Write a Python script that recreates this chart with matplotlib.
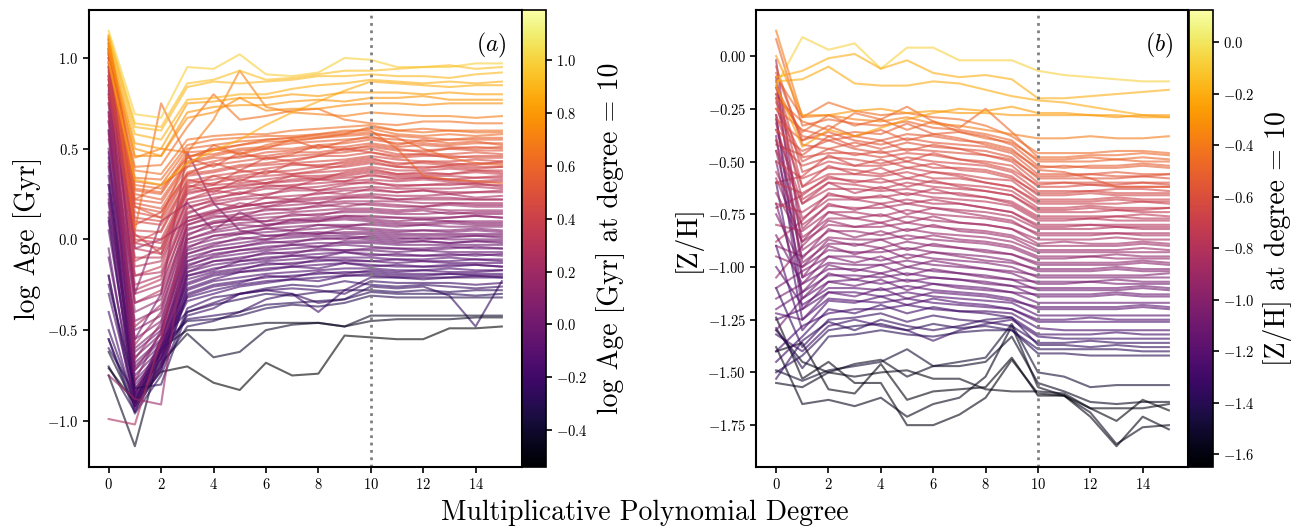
import numpy as np
import matplotlib
matplotlib.use("Agg")
import matplotlib.pyplot as plt
from matplotlib.colors import Normalize
from matplotlib.ticker import FuncFormatter

plt.rcParams['font.family'] = 'serif'
plt.rcParams['font.serif'] = ['cmr10']
plt.rcParams['mathtext.fontset'] = 'cm'
plt.rcParams['axes.formatter.use_mathtext'] = True

degrees = list(range(16))
ref_degree = 10

# ---------------- panel (a): log Age [Gyr] ----------------
age_yellow = [
    [1.15, 0.69, 0.67, 0.95, 0.94, 1.02, 0.91, 0.90, 0.92, 1.00, 0.99, 0.95, 0.95, 0.95, 0.97, 0.97],
    [1.13, 0.64, 0.62, 0.86, 0.88, 0.93, 0.88, 0.89, 0.91, 0.93, 0.93, 0.94, 0.95, 0.96, 0.94, 0.95],
    [1.12, 0.62, 0.60, 0.84, 0.87, 0.86, 0.87, 0.88, 0.90, 0.90, 0.91, 0.90, 0.90, 0.89, 0.91, 0.92],
    [1.10, 0.58, 0.55, 0.77, 0.78, 0.80, 0.80, 0.83, 0.85, 0.86, 0.88, 0.87, 0.86, 0.87, 0.86, 0.87],
    [0.98, 0.33, 0.30, 0.42, 0.49, 0.55, 0.63, 0.70, 0.76, 0.82, 0.87, 0.86, 0.85, 0.84, 0.85, 0.85],
    [1.08, 0.53, 0.50, 0.75, 0.76, 0.78, 0.78, 0.80, 0.79, 0.81, 0.81, 0.81, 0.80, 0.81, 0.80, 0.80],
    [1.06, 0.50, 0.46, 0.70, 0.73, 0.74, 0.74, 0.76, 0.77, 0.76, 0.78, 0.78, 0.79, 0.77, 0.77, 0.77],
    [1.04, 0.46, 0.46, 0.67, 0.70, 0.78, 0.71, 0.72, 0.72, 0.74, 0.75, 0.75, 0.74, 0.75, 0.75, 0.75],
]
age_orange = [
    [1.06, 0.45, 0.50, 0.48, 0.66, 0.93, 0.73, 0.70, 0.69, 0.68, 0.70, 0.69, 0.68, 0.68, 0.67, 0.68],
    [1.03, 0.40, 0.41, 0.62, 0.80, 0.66, 0.68, 0.71, 0.72, 0.66, 0.64, 0.63, 0.65, 0.65, 0.64, 0.64],
    [1.05, 0.05, 0.75, 0.45, 0.50, 0.47, 0.52, 0.55, 0.56, 0.58, 0.62, 0.60, 0.61, 0.60, 0.59, 0.59],
    [1.02, 0.38, 0.36, 0.55, 0.57, 0.58, 0.58, 0.60, 0.61, 0.62, 0.63, 0.60, 0.59, 0.60, 0.60, 0.60],
    [1.08, 0.30, 0.28, 0.45, 0.50, 0.52, 0.55, 0.56, 0.58, 0.60, 0.60, 0.50, 0.35, 0.33, 0.32, 0.31],
    [1.00, 0.34, 0.33, 0.52, 0.55, 0.56, 0.57, 0.57, 0.58, 0.59, 0.61, 0.58, 0.57, 0.58, 0.57, 0.58],
    [1.10, 0.32, 0.30, 0.50, 0.52, 0.54, 0.55, 0.56, 0.57, 0.58, 0.59, 0.56, 0.50, 0.45, 0.42, 0.41],
    [0.97, 0.28, 0.26, 0.48, 0.49, 0.52, 0.54, 0.54, 0.56, 0.57, 0.58, 0.57, 0.56, 0.55, 0.56, 0.56],
]
age_red = [
    [1.12, 0.27, 0.25, 0.46, 0.47, 0.50, 0.51, 0.53, 0.54, 0.55, 0.56, 0.55, 0.54, 0.55, 0.55, 0.55],
    [1.05, 0.25, 0.22, 0.43, 0.46, 0.49, 0.50, 0.50, 0.52, 0.53, 0.55, 0.53, 0.53, 0.52, 0.53, 0.53],
    [0.95, 0.22, 0.20, 0.42, 0.45, 0.45, 0.48, 0.49, 0.51, 0.51, 0.53, 0.51, 0.52, 0.51, 0.50, 0.51],
    [1.02, 0.20, 0.17, 0.40, 0.43, 0.46, 0.46, 0.48, 0.48, 0.50, 0.51, 0.49, 0.49, 0.50, 0.49, 0.49],
    [0.90, 0.18, 0.15, 0.37, 0.41, 0.43, 0.45, 0.46, 0.47, 0.48, 0.50, 0.47, 0.47, 0.47, 0.48, 0.47],
    [1.08, 0.15, 0.12, 0.36, 0.38, 0.41, 0.42, 0.44, 0.46, 0.46, 0.48, 0.45, 0.46, 0.46, 0.45, 0.45],
    [0.85, 0.12, 0.10, 0.35, 0.37, 0.40, 0.41, 0.42, 0.43, 0.44, 0.46, 0.44, 0.43, 0.43, 0.44, 0.43],
    [1.00, 0.10, 0.08, 0.32, 0.35, 0.37, 0.39, 0.41, 0.41, 0.42, 0.44, 0.42, 0.42, 0.41, 0.42, 0.42],
    [0.92, 0.05, 0.04, 0.31, 0.33, 0.35, 0.37, 0.38, 0.40, 0.40, 0.42, 0.40, 0.40, 0.40, 0.39, 0.40],
    [0.80, 0.02, 0.00, 0.29, 0.31, 0.34, 0.35, 0.36, 0.37, 0.38, 0.40, 0.38, 0.38, 0.39, 0.38, 0.38],
    [1.05, 0.00, -0.02, 0.27, 0.30, 0.31, 0.33, 0.35, 0.35, 0.36, 0.38, 0.36, 0.36, 0.36, 0.37, 0.36],
    [0.98, -0.02, -0.05, 0.26, 0.28, 0.30, 0.31, 0.33, 0.34, 0.35, 0.37, 0.35, 0.35, 0.35, 0.34, 0.35],
]
age_magenta = [
    [0.95, -0.05, -0.08, 0.25, 0.28, 0.29, 0.31, 0.32, 0.33, 0.34, 0.35, 0.34, 0.34, 0.33, 0.34, 0.34],
    [0.88, -0.10, -0.10, 0.22, 0.25, 0.28, 0.29, 0.30, 0.31, 0.32, 0.33, 0.32, 0.33, 0.32, 0.31, 0.32],
    [1.02, -0.15, -0.12, 0.20, 0.23, 0.25, 0.28, 0.28, 0.29, 0.31, 0.31, 0.30, 0.30, 0.31, 0.30, 0.30],
    [0.75, -0.20, -0.18, 0.18, 0.21, 0.23, 0.25, 0.27, 0.27, 0.28, 0.29, 0.28, 0.28, 0.28, 0.29, 0.28],
    [0.90, -0.25, -0.20, 0.15, 0.19, 0.22, 0.23, 0.24, 0.25, 0.27, 0.27, 0.26, 0.27, 0.26, 0.26, 0.26],
    [-0.99, -1.02, -0.55, 0.10, 0.15, 0.18, 0.20, 0.22, 0.23, 0.24, 0.25, 0.24, 0.24, 0.25, 0.23, 0.24],
    [0.70, -0.30, -0.25, 0.12, 0.16, 0.18, 0.20, 0.21, 0.22, 0.23, 0.23, 0.22, 0.22, 0.22, 0.22, 0.22],
    [1.10, -0.05, 0.00, 0.10, 0.14, 0.16, 0.18, 0.19, 0.20, 0.21, 0.21, 0.21, 0.20, 0.20, 0.20, 0.20],
    [0.65, -0.35, -0.30, 0.08, 0.12, 0.14, 0.16, 0.17, 0.18, 0.20, 0.19, 0.18, 0.18, 0.19, 0.18, 0.18],
    [-0.75, -0.88, -0.91, 0.05, 0.10, 0.12, 0.14, 0.15, 0.16, 0.17, 0.17, 0.16, 0.17, 0.16, 0.16, 0.16],
    [0.85, -0.40, -0.33, 0.06, 0.09, 0.11, 0.12, 0.13, 0.14, 0.15, 0.15, 0.14, 0.14, 0.15, 0.14, 0.14],
    [0.55, -0.45, -0.38, 0.03, 0.07, 0.09, 0.10, 0.11, 0.12, 0.13, 0.13, 0.12, 0.12, 0.12, 0.13, 0.12],
    [1.00, -0.30, 0.10, 0.20, 0.05, 0.15, 0.08, 0.10, 0.11, 0.12, 0.11, 0.10, 0.11, 0.10, 0.10, 0.10],
]
age_purple = [
    [0.80, -0.50, -0.42, 0.00, 0.04, 0.06, 0.08, 0.09, 0.10, 0.11, 0.10, 0.09, 0.09, 0.10, 0.09, 0.09],
    [0.45, -0.55, -0.45, -0.02, 0.02, 0.04, 0.06, 0.07, 0.08, 0.08, 0.08, 0.07, 0.08, 0.07, 0.07, 0.07],
    [0.95, -0.60, -0.48, -0.04, 0.00, 0.03, 0.04, 0.05, 0.06, 0.07, 0.06, 0.05, 0.05, 0.05, 0.06, 0.05],
    [0.60, -0.55, -0.30, 0.48, 0.20, 0.05, 0.02, 0.02, 0.03, 0.04, 0.04, 0.03, 0.03, 0.03, 0.03, 0.03],
    [0.30, -0.62, -0.50, -0.06, -0.02, 0.00, 0.02, 0.03, 0.04, 0.03, 0.03, 0.02, 0.02, 0.02, 0.02, 0.02],
    [0.70, -0.65, -0.52, -0.08, -0.04, -0.02, 0.00, 0.01, 0.02, 0.02, 0.01, 0.00, 0.01, 0.00, 0.00, 0.00],
    [0.50, -0.68, -0.55, -0.10, -0.06, -0.04, -0.02, -0.01, 0.00, 0.01, 0.00, -0.01, -0.01, -0.02, -0.01, -0.01],
    [0.15, -0.70, -0.56, -0.12, -0.08, -0.06, -0.04, -0.03, -0.02, -0.02, -0.02, -0.03, -0.03, -0.03, -0.03, -0.03],
    [0.85, -0.72, -0.58, -0.14, -0.10, -0.08, -0.06, -0.05, -0.04, -0.03, -0.04, -0.05, -0.05, -0.04, -0.05, -0.05],
    [0.25, -0.75, -0.60, -0.16, -0.12, -0.10, -0.08, -0.07, -0.06, -0.06, -0.06, -0.07, -0.06, -0.07, -0.07, -0.07],
    [0.60, -0.78, -0.62, -0.18, -0.14, -0.12, -0.10, -0.09, -0.08, -0.07, -0.08, -0.09, -0.09, -0.09, -0.08, -0.09],
    [0.05, -0.80, -0.64, -0.20, -0.16, -0.14, -0.12, -0.11, -0.10, -0.10, -0.10, -0.11, -0.11, -0.10, -0.11, -0.11],
    [0.40, -0.82, -0.66, -0.22, -0.18, -0.16, -0.14, -0.13, -0.12, -0.11, -0.12, -0.13, -0.12, -0.13, -0.13, -0.13],
    [-0.10, -0.84, -0.68, -0.25, -0.20, -0.18, -0.16, -0.15, -0.14, -0.13, -0.14, -0.15, -0.15, -0.15, -0.14, -0.15],
    [0.20, -0.86, -0.70, -0.28, -0.23, -0.21, -0.19, -0.18, -0.17, -0.16, -0.16, -0.17, -0.17, -0.16, -0.17, -0.17],
    [-0.30, -0.88, -0.72, -0.30, -0.25, -0.23, -0.21, -0.20, -0.19, -0.18, -0.18, -0.19, -0.19, -0.19, -0.19, -0.19],
    [0.35, -0.85, -0.60, -0.32, -0.28, -0.25, -0.23, -0.22, -0.21, -0.20, -0.20, -0.21, -0.21, -0.21, -0.20, -0.21],
]
age_mixed = [
    [1.07, 0.22, 0.30, 0.40, 0.52, 0.47, 0.50, 0.55, 0.50, 0.54, 0.57, 0.52, 0.55, 0.53, 0.54, 0.52],
    [0.93, 0.18, 0.12, 0.45, 0.40, 0.48, 0.44, 0.47, 0.52, 0.49, 0.52, 0.50, 0.48, 0.50, 0.51, 0.50],
    [1.03, 0.08, 0.15, 0.36, 0.42, 0.38, 0.45, 0.43, 0.46, 0.50, 0.48, 0.46, 0.47, 0.45, 0.46, 0.46],
    [0.88, -0.02, 0.05, 0.33, 0.30, 0.38, 0.36, 0.42, 0.40, 0.43, 0.45, 0.41, 0.43, 0.42, 0.41, 0.43],
    [1.11, 0.03, -0.08, 0.28, 0.35, 0.32, 0.38, 0.36, 0.38, 0.41, 0.43, 0.40, 0.39, 0.41, 0.40, 0.40],
    [0.78, -0.12, -0.05, 0.30, 0.26, 0.33, 0.31, 0.35, 0.33, 0.37, 0.39, 0.36, 0.37, 0.36, 0.38, 0.37],
    [0.97, -0.20, -0.15, 0.22, 0.27, 0.25, 0.30, 0.29, 0.33, 0.32, 0.36, 0.33, 0.34, 0.33, 0.32, 0.33],
    [0.68, -0.28, -0.22, 0.17, 0.22, 0.26, 0.24, 0.29, 0.27, 0.30, 0.32, 0.29, 0.30, 0.30, 0.31, 0.29],
    [1.04, -0.35, -0.28, 0.14, 0.20, 0.18, 0.23, 0.22, 0.26, 0.25, 0.28, 0.26, 0.27, 0.25, 0.26, 0.27],
    [0.58, -0.48, -0.36, 0.12, 0.15, 0.20, 0.18, 0.21, 0.20, 0.23, 0.24, 0.22, 0.23, 0.23, 0.22, 0.22],
    [0.82, -0.58, -0.40, 0.08, 0.13, 0.12, 0.17, 0.16, 0.19, 0.18, 0.20, 0.19, 0.18, 0.20, 0.19, 0.19],
    [0.42, -0.66, -0.46, 0.02, 0.09, 0.11, 0.10, 0.14, 0.13, 0.16, 0.16, 0.15, 0.16, 0.14, 0.15, 0.15],
    [0.90, -0.72, -0.52, 0.00, 0.05, 0.08, 0.07, 0.11, 0.10, 0.13, 0.12, 0.12, 0.11, 0.12, 0.13, 0.12],
    [0.22, -0.78, -0.50, -0.05, 0.02, 0.03, 0.06, 0.05, 0.08, 0.07, 0.09, 0.08, 0.08, 0.09, 0.08, 0.08],
    [0.65, -0.83, -0.58, -0.08, -0.03, 0.01, 0.00, 0.04, 0.03, 0.06, 0.05, 0.04, 0.05, 0.04, 0.05, 0.04],
    [0.10, -0.88, -0.62, -0.12, -0.06, -0.04, -0.01, -0.02, 0.01, 0.00, 0.02, 0.01, 0.00, 0.01, 0.02, 0.01],
    [0.75, -0.86, -0.55, -0.15, -0.09, -0.06, -0.05, -0.03, -0.04, -0.01, -0.01, -0.02, -0.01, -0.02, -0.01, -0.02],
    [-0.05, -0.92, -0.65, -0.18, -0.12, -0.11, -0.07, -0.08, -0.05, -0.06, -0.05, -0.05, -0.06, -0.05, -0.04, -0.05],
    [0.48, -0.90, -0.70, -0.20, -0.17, -0.12, -0.11, -0.09, -0.10, -0.07, -0.09, -0.08, -0.09, -0.08, -0.09, -0.08],
    [-0.20, -0.95, -0.60, -0.24, -0.19, -0.17, -0.13, -0.14, -0.11, -0.12, -0.12, -0.11, -0.12, -0.12, -0.11, -0.12],
    [0.30, -0.87, -0.66, -0.27, -0.22, -0.18, -0.17, -0.15, -0.16, -0.13, -0.15, -0.14, -0.15, -0.14, -0.14, -0.15],
    [-0.40, -0.93, -0.72, -0.31, -0.26, -0.24, -0.20, -0.21, -0.18, -0.19, -0.17, -0.18, -0.17, -0.18, -0.18, -0.17],
    [0.12, -0.89, -0.62, -0.34, -0.30, -0.26, -0.24, -0.22, -0.23, -0.20, -0.19, -0.20, -0.20, -0.19, -0.20, -0.20],
    [-0.55, -0.96, -0.75, -0.38, -0.32, -0.30, -0.27, -0.25, -0.26, -0.23, -0.25, -0.26, -0.25, -0.26, -0.27, -0.26],
    [-0.25, -0.82, -0.80, -0.40, -0.36, -0.33, -0.30, -0.31, -0.29, -0.28, -0.28, -0.29, -0.28, -0.29, -0.28, -0.28],
]
age_dark = [
    [-0.20, -0.90, -0.55, -0.40, -0.35, -0.30, -0.28, -0.30, -0.40, -0.28, -0.21, -0.21, -0.22, -0.21, -0.21, -0.21],
    [-0.50, -0.90, -0.65, -0.42, -0.38, -0.30, -0.28, -0.27, -0.28, -0.30, -0.23, -0.24, -0.24, -0.24, -0.25, -0.24],
    [-0.60, -0.85, -0.62, -0.44, -0.42, -0.40, -0.33, -0.30, -0.35, -0.33, -0.26, -0.27, -0.26, -0.31, -0.48, -0.23],
    [-0.70, -0.95, -0.70, -0.48, -0.45, -0.40, -0.36, -0.35, -0.34, -0.33, -0.29, -0.30, -0.30, -0.30, -0.31, -0.30],
    [-0.55, -0.92, -0.58, -0.45, -0.44, -0.42, -0.38, -0.36, -0.37, -0.35, -0.31, -0.32, -0.32, -0.32, -0.32, -0.32],
    [-0.62, -0.92, -0.68, -0.52, -0.65, -0.62, -0.50, -0.47, -0.46, -0.48, -0.42, -0.42, -0.42, -0.42, -0.42, -0.42],
    [-0.75, -1.14, -0.60, -0.50, -0.50, -0.48, -0.46, -0.46, -0.46, -0.48, -0.45, -0.44, -0.44, -0.44, -0.43, -0.43],
    [-0.71, -0.90, -0.73, -0.70, -0.79, -0.83, -0.68, -0.75, -0.74, -0.53, -0.54, -0.55, -0.55, -0.49, -0.49, -0.48],
]
age_norm_range = (-0.54, 1.19)
age_cbar_ticks = [-0.4, -0.2, 0.0, 0.2, 0.4, 0.6, 0.8, 1.0]
age_yticks = [-1.0, -0.5, 0.0, 0.5, 1.0]

# ---------------- panel (b): [Z/H] ----------------
zh_yellow = [
    [-0.14, 0.09, 0.03, 0.06, -0.06, 0.04, 0.04, -0.02, -0.02, -0.02, -0.07, -0.09, -0.10, -0.11, -0.12, -0.12],
    [-0.10, -0.07, -0.01, 0.01, -0.06, -0.02, -0.08, -0.10, -0.09, -0.11, -0.20, -0.20, -0.19, -0.18, -0.17, -0.16],
    [-0.12, -0.11, -0.05, -0.13, -0.14, -0.14, -0.12, -0.13, -0.16, -0.19, -0.21, -0.22, -0.24, -0.26, -0.28, -0.29],
    [-0.14, -0.43, -0.35, -0.38, -0.34, -0.30, -0.27, -0.25, -0.26, -0.24, -0.27, -0.27, -0.28, -0.28, -0.29, -0.29],
    [0.00, -0.28, -0.28, -0.26, -0.25, -0.27, -0.26, -0.27, -0.27, -0.28, -0.28, -0.28, -0.28, -0.29, -0.28, -0.28],
    [0.12, -0.29, -0.28, -0.30, -0.31, -0.29, -0.32, -0.33, -0.35, -0.37, -0.39, -0.39, -0.38, -0.39, -0.39, -0.38],
]
zh_orange = [
    [-0.10, -0.29, -0.22, -0.26, -0.28, -0.27, -0.29, -0.30, -0.33, -0.38, -0.46, -0.46, -0.46, -0.45, -0.45, -0.46],
    [-0.20, -0.31, -0.35, -0.27, -0.30, -0.24, -0.31, -0.34, -0.25, -0.36, -0.48, -0.48, -0.47, -0.47, -0.46, -0.47],
    [0.08, -0.33, -0.30, -0.32, -0.33, -0.31, -0.34, -0.35, -0.37, -0.40, -0.50, -0.50, -0.50, -0.49, -0.50, -0.50],
    [-0.25, -0.35, -0.38, -0.36, -0.37, -0.32, -0.37, -0.36, -0.38, -0.42, -0.52, -0.53, -0.52, -0.52, -0.51, -0.52],
    [-0.15, -0.38, -0.40, -0.38, -0.40, -0.37, -0.38, -0.40, -0.41, -0.44, -0.54, -0.55, -0.58, -0.62, -0.62, -0.62],
    [-0.30, -0.40, -0.36, -0.40, -0.42, -0.39, -0.41, -0.42, -0.43, -0.46, -0.56, -0.56, -0.56, -0.55, -0.56, -0.56],
    [-0.05, -0.42, -0.44, -0.41, -0.44, -0.41, -0.43, -0.44, -0.45, -0.48, -0.58, -0.58, -0.58, -0.58, -0.57, -0.58],
    [-0.35, -0.45, -0.40, -0.44, -0.46, -0.44, -0.45, -0.46, -0.47, -0.50, -0.60, -0.60, -0.60, -0.60, -0.60, -0.60],
]
zh_red = [
    [-0.22, -0.48, -0.46, -0.46, -0.48, -0.46, -0.47, -0.49, -0.50, -0.52, -0.62, -0.62, -0.61, -0.62, -0.62, -0.62],
    [-0.40, -0.52, -0.48, -0.49, -0.51, -0.48, -0.50, -0.51, -0.52, -0.55, -0.64, -0.64, -0.64, -0.63, -0.63, -0.64],
    [-0.12, -0.55, -0.50, -0.52, -0.52, -0.50, -0.53, -0.53, -0.54, -0.57, -0.66, -0.66, -0.65, -0.66, -0.66, -0.66],
    [-0.50, -0.58, -0.53, -0.54, -0.56, -0.53, -0.55, -0.56, -0.58, -0.59, -0.68, -0.68, -0.68, -0.67, -0.68, -0.68],
    [-0.28, -0.62, -0.56, -0.56, -0.57, -0.55, -0.58, -0.58, -0.60, -0.62, -0.70, -0.70, -0.70, -0.70, -0.69, -0.70],
    [-0.60, -0.65, -0.58, -0.59, -0.60, -0.58, -0.60, -0.61, -0.62, -0.64, -0.72, -0.72, -0.71, -0.72, -0.72, -0.72],
    [-0.18, -0.68, -0.60, -0.61, -0.63, -0.60, -0.62, -0.63, -0.64, -0.66, -0.74, -0.74, -0.74, -0.73, -0.74, -0.74],
    [-0.45, -0.70, -0.63, -0.63, -0.64, -0.63, -0.65, -0.65, -0.67, -0.69, -0.76, -0.76, -0.76, -0.76, -0.75, -0.76],
    [-0.70, -0.74, -0.66, -0.67, -0.67, -0.65, -0.67, -0.68, -0.69, -0.71, -0.78, -0.78, -0.77, -0.78, -0.78, -0.78],
    [-0.32, -0.77, -0.68, -0.68, -0.70, -0.68, -0.70, -0.70, -0.72, -0.74, -0.80, -0.80, -0.80, -0.80, -0.80, -0.80],
    [-0.55, -0.80, -0.71, -0.72, -0.72, -0.70, -0.72, -0.73, -0.74, -0.76, -0.82, -0.82, -0.82, -0.81, -0.82, -0.82],
    [-0.80, -0.83, -0.74, -0.74, -0.76, -0.73, -0.75, -0.76, -0.77, -0.79, -0.84, -0.84, -0.84, -0.84, -0.84, -0.84],
]
zh_magenta = [
    [-0.40, -0.86, -0.77, -0.77, -0.79, -0.76, -0.78, -0.79, -0.80, -0.82, -0.87, -0.87, -0.87, -0.86, -0.87, -0.87],
    [-0.65, -0.88, -0.80, -0.81, -0.81, -0.79, -0.81, -0.82, -0.83, -0.85, -0.90, -0.90, -0.90, -0.90, -0.89, -0.90],
    [-0.02, -0.92, -0.83, -0.83, -0.85, -0.82, -0.84, -0.85, -0.86, -0.88, -0.93, -0.93, -0.93, -0.93, -0.93, -0.93],
    [-0.90, -0.95, -0.86, -0.87, -0.87, -0.85, -0.87, -0.88, -0.89, -0.91, -0.96, -0.96, -0.95, -0.96, -0.96, -0.96],
    [-0.30, -0.98, -0.89, -0.89, -0.91, -0.88, -0.90, -0.91, -0.92, -0.94, -0.99, -0.99, -0.99, -0.99, -0.98, -0.99],
    [-0.75, -1.00, -0.92, -0.93, -0.93, -0.91, -0.93, -0.94, -0.95, -0.97, -1.02, -1.02, -1.02, -1.01, -1.02, -1.02],
    [-1.10, -1.02, -0.95, -0.95, -0.97, -0.94, -0.96, -0.97, -0.98, -1.00, -1.05, -1.05, -1.05, -1.05, -1.05, -1.05],
    [-0.50, -1.05, -0.98, -0.99, -0.99, -0.97, -0.99, -1.00, -1.01, -1.03, -1.08, -1.08, -1.07, -1.08, -1.08, -1.08],
    [-0.85, -1.08, -1.01, -1.01, -1.03, -1.00, -1.02, -1.03, -1.04, -1.06, -1.11, -1.11, -1.11, -1.11, -1.10, -1.11],
    [-1.20, -1.12, -1.04, -1.04, -1.05, -1.03, -1.05, -1.06, -1.07, -1.09, -1.14, -1.14, -1.14, -1.13, -1.14, -1.14],
    [-0.28, -1.15, -1.07, -1.06, -1.08, -1.06, -1.08, -1.09, -1.10, -1.12, -1.17, -1.17, -1.17, -1.17, -1.17, -1.17],
    [-1.00, -1.18, -1.10, -1.10, -1.11, -1.09, -1.11, -1.12, -1.13, -1.15, -1.20, -1.20, -1.20, -1.20, -1.19, -1.20],
]
zh_mixed = [
    [-0.18, -0.36, -0.28, -0.33, -0.30, -0.35, -0.31, -0.36, -0.39, -0.41, -0.49, -0.49, -0.48, -0.49, -0.48, -0.49],
    [-0.08, -0.40, -0.33, -0.38, -0.35, -0.40, -0.37, -0.39, -0.42, -0.45, -0.53, -0.52, -0.53, -0.53, -0.52, -0.53],
    [-0.42, -0.47, -0.38, -0.43, -0.40, -0.45, -0.42, -0.44, -0.47, -0.49, -0.57, -0.57, -0.56, -0.57, -0.57, -0.56],
    [-0.25, -0.50, -0.44, -0.47, -0.45, -0.50, -0.46, -0.49, -0.51, -0.54, -0.61, -0.60, -0.61, -0.61, -0.60, -0.61],
    [-0.60, -0.57, -0.47, -0.52, -0.49, -0.53, -0.51, -0.54, -0.55, -0.58, -0.65, -0.65, -0.64, -0.65, -0.65, -0.65],
    [-0.15, -0.62, -0.52, -0.56, -0.53, -0.58, -0.55, -0.57, -0.60, -0.62, -0.69, -0.69, -0.69, -0.68, -0.69, -0.69],
    [-0.72, -0.66, -0.57, -0.60, -0.58, -0.62, -0.59, -0.62, -0.64, -0.66, -0.73, -0.73, -0.72, -0.73, -0.73, -0.72],
    [-0.35, -0.70, -0.60, -0.65, -0.62, -0.66, -0.63, -0.66, -0.67, -0.70, -0.77, -0.77, -0.77, -0.76, -0.77, -0.77],
    [-0.88, -0.78, -0.65, -0.68, -0.66, -0.70, -0.68, -0.70, -0.72, -0.74, -0.81, -0.81, -0.80, -0.81, -0.81, -0.81],
    [-0.20, -0.82, -0.70, -0.73, -0.70, -0.75, -0.72, -0.74, -0.76, -0.78, -0.85, -0.85, -0.85, -0.84, -0.85, -0.85],
    [-0.58, -0.88, -0.74, -0.77, -0.75, -0.79, -0.76, -0.79, -0.80, -0.82, -0.89, -0.88, -0.89, -0.89, -0.88, -0.89],
    [-1.05, -0.90, -0.78, -0.81, -0.79, -0.83, -0.80, -0.83, -0.84, -0.86, -0.92, -0.92, -0.92, -0.92, -0.91, -0.92],
    [-0.45, -0.96, -0.82, -0.86, -0.83, -0.87, -0.85, -0.87, -0.88, -0.90, -0.95, -0.95, -0.95, -0.94, -0.95, -0.95],
    [-0.95, -1.00, -0.87, -0.90, -0.87, -0.92, -0.89, -0.91, -0.93, -0.94, -0.98, -0.98, -0.98, -0.98, -0.97, -0.98],
    [-0.10, -1.05, -0.90, -0.94, -0.91, -0.96, -0.93, -0.95, -0.97, -0.98, -1.01, -1.01, -1.01, -1.00, -1.01, -1.01],
    [-1.15, -1.08, -0.95, -0.98, -0.95, -1.00, -0.97, -0.99, -1.01, -1.02, -1.04, -1.04, -1.04, -1.04, -1.04, -1.03],
    [-0.70, -1.12, -0.99, -1.02, -0.99, -1.04, -1.01, -1.03, -1.05, -1.06, -1.07, -1.07, -1.07, -1.06, -1.07, -1.07],
    [-1.30, -1.15, -1.03, -1.06, -1.03, -1.07, -1.05, -1.06, -1.08, -1.09, -1.10, -1.10, -1.10, -1.10, -1.09, -1.10],
    [-0.38, -1.20, -1.07, -1.09, -1.06, -1.11, -1.08, -1.10, -1.11, -1.12, -1.13, -1.13, -1.13, -1.12, -1.13, -1.13],
    [-1.22, -1.25, -1.12, -1.14, -1.10, -1.15, -1.12, -1.13, -1.14, -1.16, -1.19, -1.19, -1.19, -1.19, -1.18, -1.19],
    [-0.90, -1.30, -1.16, -1.17, -1.14, -1.18, -1.15, -1.17, -1.18, -1.20, -1.25, -1.25, -1.24, -1.25, -1.25, -1.25],
    [-1.45, -1.33, -1.20, -1.22, -1.18, -1.22, -1.19, -1.21, -1.22, -1.24, -1.32, -1.32, -1.32, -1.31, -1.32, -1.32],
    [-1.10, -1.38, -1.25, -1.24, -1.22, -1.26, -1.23, -1.25, -1.26, -1.28, -1.36, -1.36, -1.35, -1.36, -1.36, -1.36],
    [-1.50, -1.42, -1.30, -1.28, -1.27, -1.30, -1.27, -1.29, -1.28, -1.30, -1.39, -1.39, -1.39, -1.39, -1.40, -1.40],
]
zh_purple = [
    [-1.25, -1.20, -1.12, -1.12, -1.14, -1.12, -1.14, -1.15, -1.16, -1.17, -1.23, -1.23, -1.23, -1.23, -1.23, -1.23],
    [-0.60, -1.25, -1.15, -1.16, -1.17, -1.15, -1.17, -1.18, -1.19, -1.20, -1.26, -1.26, -1.26, -1.26, -1.26, -1.26],
    [-1.40, -1.28, -1.22, -1.20, -1.20, -1.18, -1.20, -1.21, -1.21, -1.22, -1.29, -1.30, -1.30, -1.30, -1.30, -1.30],
    [-1.32, -1.40, -1.28, -1.25, -1.28, -1.30, -1.35, -1.30, -1.27, -1.25, -1.33, -1.34, -1.34, -1.34, -1.34, -1.34],
    [-1.53, -1.35, -1.26, -1.30, -1.25, -1.28, -1.30, -1.28, -1.25, -1.24, -1.37, -1.37, -1.38, -1.37, -1.38, -1.38],
    [-1.29, -1.48, -1.33, -1.32, -1.30, -1.32, -1.33, -1.31, -1.30, -1.30, -1.41, -1.41, -1.42, -1.42, -1.42, -1.42],
]
zh_dark = [
    [-1.49, -1.54, -1.49, -1.47, -1.45, -1.39, -1.47, -1.45, -1.43, -1.27, -1.50, -1.52, -1.57, -1.56, -1.56, -1.56],
    [-1.55, -1.57, -1.50, -1.46, -1.44, -1.52, -1.47, -1.47, -1.45, -1.33, -1.55, -1.59, -1.64, -1.65, -1.64, -1.64],
    [-1.40, -1.36, -1.58, -1.60, -1.46, -1.63, -1.59, -1.58, -1.57, -1.43, -1.61, -1.61, -1.67, -1.73, -1.63, -1.68],
    [-1.38, -1.65, -1.63, -1.66, -1.62, -1.71, -1.65, -1.62, -1.52, -1.28, -1.57, -1.61, -1.69, -1.84, -1.76, -1.75],
    [-1.24, -1.53, -1.45, -1.55, -1.55, -1.75, -1.75, -1.70, -1.62, -1.44, -1.60, -1.61, -1.71, -1.85, -1.71, -1.77],
    [-1.30, -1.45, -1.50, -1.52, -1.50, -1.49, -1.53, -1.53, -1.58, -1.59, -1.59, -1.60, -1.67, -1.67, -1.67, -1.65],
]
zh_norm_range = (-1.65, 0.125)
zh_cbar_ticks = [-1.6, -1.4, -1.2, -1.0, -0.8, -0.6, -0.4, -0.2, 0.0]
zh_yticks = [-1.75, -1.5, -1.25, -1.0, -0.75, -0.5, -0.25, 0.0]

xticks = [0, 2, 4, 6, 8, 10, 12, 14]

# ---------------- figure ----------------
W, H = 1298, 529
fig = plt.figure(figsize=(W / 100, H / 100), dpi=100)


def frac(x0, y0, x1, y1):
    return [x0 / W, 1 - y1 / H, (x1 - x0) / W, (y1 - y0) / H]


axA = fig.add_axes(frac(89, 10, 521.5, 467))
caxA = fig.add_axes(frac(521.5, 10, 545.5, 467))
axB = fig.add_axes(frac(756.5, 10, 1188.5, 467))
caxB = fig.add_axes(frac(1188.5, 10, 1212.5, 467))

cmap = plt.get_cmap('inferno')


def draw_panel(ax, cax, groups, vrange, yticks, ylabel, cbar_label, cticks, tag):
    norm = Normalize(vmin=vrange[0], vmax=vrange[1])
    for group in groups:
        for track in group:
            ax.plot(degrees, track, color=cmap(norm(track[ref_degree])),
                    alpha=0.6, lw=1.5)
    ax.axvline(ref_degree, color='gray', ls=':', lw=2)
    ax.set_xticks(xticks)
    ax.set_yticks(yticks)
    ax.tick_params(labelsize=10.5, width=1.2, length=4)
    for s in ax.spines.values():
        s.set_linewidth(1.5)
    ax.set_ylabel(ylabel, fontsize=20)
    ax.text(0.965, 0.955, tag, transform=ax.transAxes, ha='right', va='top',
            fontsize=17)
    sm = plt.cm.ScalarMappable(norm=norm, cmap=cmap)
    cb = fig.colorbar(sm, cax=cax, ticks=cticks)
    cb.ax.tick_params(labelsize=10.5, width=1.2, length=4)
    cb.outline.set_linewidth(1.2)
    cb.set_label(cbar_label, fontsize=20, labelpad=6)


draw_panel(axA, caxA,
           [age_dark, age_purple, age_mixed, age_magenta, age_red, age_orange, age_yellow],
           age_norm_range, age_yticks, 'log Age [Gyr]',
           'log Age [Gyr] at degree = 10', age_cbar_ticks, r'$(a)$')
draw_panel(axB, caxB,
           [zh_dark, zh_purple, zh_mixed, zh_magenta, zh_red, zh_orange, zh_yellow],
           zh_norm_range, zh_yticks, '[Z/H]',
           '[Z/H] at degree = 10', zh_cbar_ticks, r'$(b)$')

axB.yaxis.set_major_formatter(FuncFormatter(lambda v, p: r'$%.2f$' % v))

fig.text(0.497, 0.03, 'Multiplicative Polynomial Degree', ha='center',
         va='center', fontsize=20)

fig.savefig('out.png', dpi=100)
